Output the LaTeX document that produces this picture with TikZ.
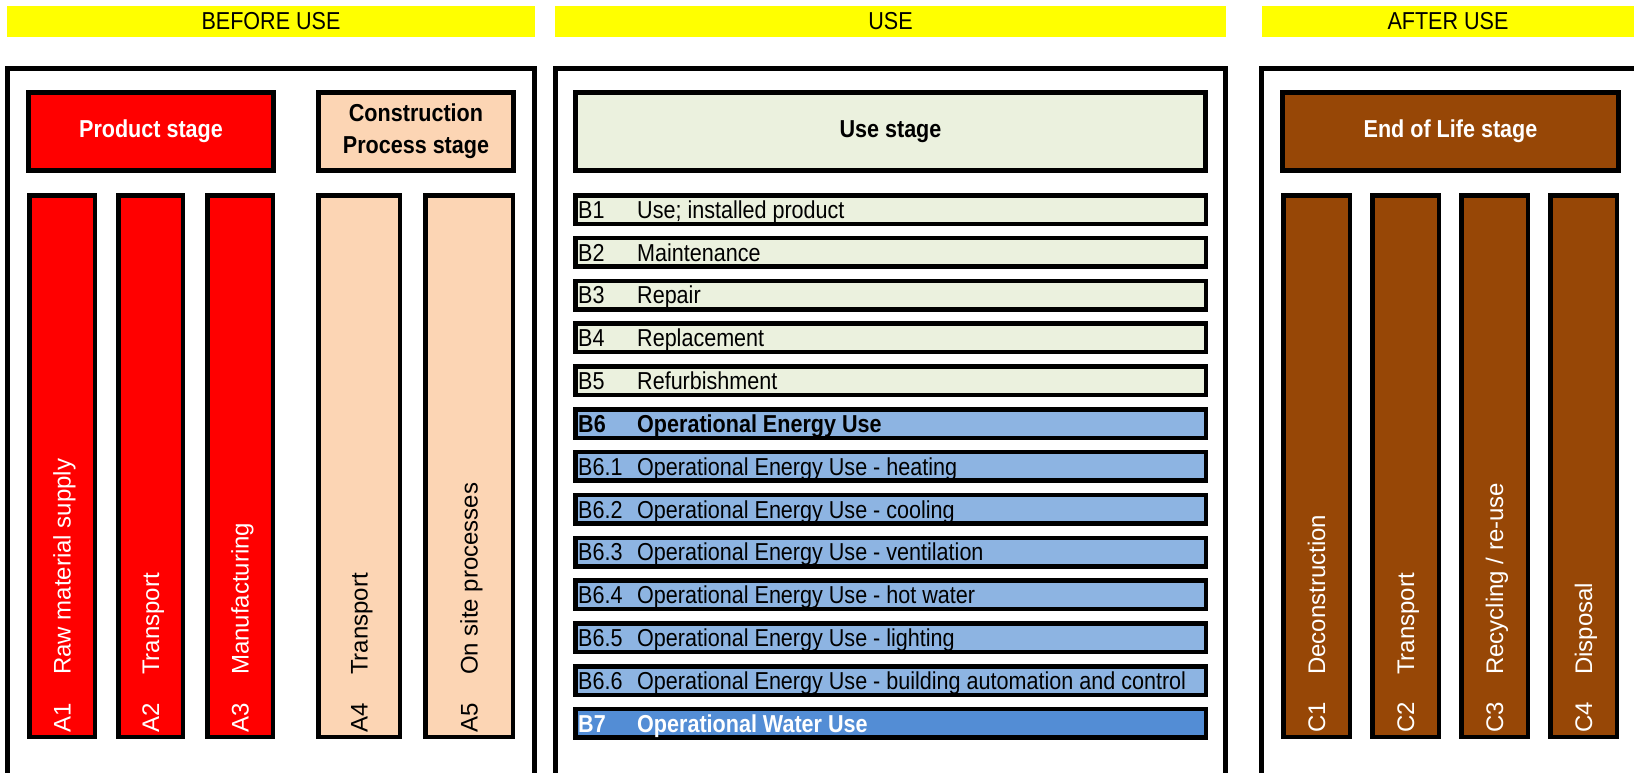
\documentclass[tikz,border=0pt]{standalone}
\usepackage{fontspec}
\setmainfont{Liberation Sans}
\newfontfamily\cond[FakeStretch=0.88]{Liberation Sans}
\definecolor{usegreen}{HTML}{EBF1DE}
\definecolor{peach}{HTML}{FCD5B4}
\definecolor{eolbrown}{HTML}{974706}
\definecolor{opblue}{HTML}{8DB4E2}
\definecolor{waterblue}{HTML}{538DD5}
\definecolor{prodred}{HTML}{FF0000}
\definecolor{bannery}{HTML}{FFFF00}
\newcommand{\hdown}[1]{\raisebox{-2pt}{#1}}
\begin{document}
\begin{tikzpicture}[x=1pt,y=-1pt,
  banner/.style={fill=bannery, draw=none, minimum height=31pt, inner sep=0pt,
    font=\cond\fontsize{24.5}{28}\selectfont},
  frame/.style={draw=black, line width=5pt},
  hdr/.style={draw=black, line width=5pt, minimum height=78pt, inner sep=0pt,
    align=center, font=\cond\bfseries\fontsize{24.5}{32}\selectfont},
  col/.style={draw=black, line width=4.5pt, minimum height=541.5pt, inner sep=0pt},
  vlab/.style={rotate=90, anchor=base west, inner sep=0pt,
    font=\fontsize{24}{28}\selectfont},
  brow/.style={draw=black, line width=4.5pt, minimum width=630.5pt,
    minimum height=28.5pt, inner sep=0pt},
  btxt/.style={anchor=base west, inner sep=0pt, font=\cond\fontsize{24.5}{28}\selectfont}
]
\useasboundingbox (0,0) rectangle (1634,772);
\fill[white] (0,0) rectangle (1634,772);
\clip (0,0) rectangle (1634,772);

% banners
\node[banner, minimum width=528pt] (bnBefore) at (271,21.5) {BEFORE USE};
\node[banner, minimum width=671pt] (bnUse) at (890.5,21.5) {USE};
\node[banner, minimum width=372pt] (bnAfter) at (1448,21.5) {AFTER USE};

% outer frames (open at the bottom edge of the picture)
\coordinate (fbA1) at (7.5,780);
\coordinate (fbA2) at (7.5,68.5);
\coordinate (fbA3) at (534.5,68.5);
\coordinate (fbA4) at (534.5,780);
\draw[frame] (fbA1) -- (fbA2) -- (fbA3) -- (fbA4);
\coordinate (fbB1) at (555.5,780);
\coordinate (fbB2) at (555.5,68.5);
\coordinate (fbB3) at (1225.5,68.5);
\coordinate (fbB4) at (1225.5,780);
\draw[frame] (fbB1) -- (fbB2) -- (fbB3) -- (fbB4);
\coordinate (fbC1) at (1261.5,780);
\coordinate (fbC2) at (1261.5,68.5);
\coordinate (fbC3) at (1640,68.5);
\draw[frame] (fbC1) -- (fbC2) -- (fbC3);

% stage headers
\node[hdr, fill=prodred, text=white, minimum width=245pt] (hProd) at (151,131.5) {\hdown{Product stage}};
\node[hdr, fill=peach, text=black, minimum width=195pt] (hCons) at (416,131.5) {\hdown{Construction}\\\hdown{Process stage}};
\node[hdr, fill=usegreen, text=black, minimum width=630pt] (hUse) at (890.5,131.5) {\hdown{Use stage}};
\node[hdr, fill=eolbrown, text=white, minimum width=336pt] (hEol) at (1450.5,131.5) {\hdown{End of Life stage}};

% vertical columns
\foreach \n/\cx/\w/\fc/\tc/\code/\desc in {
  A1/62/65.5/prodred/white/A1/{Raw material supply},
  A2/150.5/64.5/prodred/white/A2/{Transport},
  A3/240/65.5/prodred/white/A3/{Manufacturing},
  A4/359/81.5/peach/black/A4/{Transport},
  A5/469/87.5/peach/black/A5/{On site processes},
  C1/1316.5/66.5/eolbrown/white/C1/{Deconstruction},
  C2/1405.5/66.5/eolbrown/white/C2/{Transport},
  C3/1494.5/66.5/eolbrown/white/C3/{Recycling / re-use},
  C4/1583.5/66.5/eolbrown/white/C4/{Disposal}}{
  \node[col, fill=\fc, minimum width=\w pt] (col\n) at (\cx,466) {};
  \node[vlab, text=\tc] (code\n) at (\cx+8.6,733) {\code};
  \node[vlab, text=\tc] (desc\n) at (\cx+8.6,675) {\desc};
}

% use stage rows
\foreach \k/\code/\desc/\fc/\tc/\wt in {
  0/B1/{Use; installed product}/usegreen/black/\mdseries,
  1/B2/{Maintenance}/usegreen/black/\mdseries,
  2/B3/{Repair}/usegreen/black/\mdseries,
  3/B4/{Replacement}/usegreen/black/\mdseries,
  4/B5/{Refurbishment}/usegreen/black/\mdseries,
  5/B6/{Operational Energy Use}/opblue/black/\bfseries,
  6/B6.1/{Operational Energy Use - heating}/opblue/black/\mdseries,
  7/B6.2/{Operational Energy Use - cooling}/opblue/black/\mdseries,
  8/B6.3/{Operational Energy Use - ventilation}/opblue/black/\mdseries,
  9/B6.4/{Operational Energy Use - hot water}/opblue/black/\mdseries,
  10/B6.5/{Operational Energy Use - lighting}/opblue/black/\mdseries,
  11/B6.6/{Operational Energy Use - building automation and control}/opblue/black/\mdseries,
  12/B7/{Operational Water Use}/waterblue/white/\bfseries}{
  \node[brow, fill=\fc] (row\k) at (890.5,209.5+42.83*\k) {};
  \node[btxt, text=\tc] (bcode\k) at (578,218.3+42.83*\k) {\wt\code};
  \node[btxt, text=\tc] (bdesc\k) at (637,218.3+42.83*\k) {\wt\desc};
}
\end{tikzpicture}
\end{document}
